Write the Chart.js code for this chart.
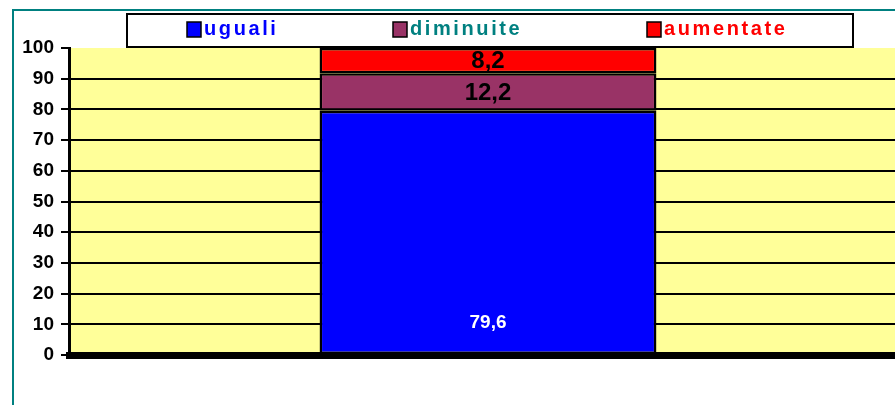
<!DOCTYPE html>
<html>
<head>
<meta charset="utf-8">
<script src="https://cdn.jsdelivr.net/npm/chart.js@4.4.1/dist/chart.umd.min.js"></script>
<style>
    html, body { margin: 0; padding: 0; background: #fff; overflow: hidden; }
    #myChart { display: block; }
</style>
</head>
<body>
<canvas id="myChart" width="910" height="405"></canvas>
<script>
// chart data
const categories = [''];
const seriesNames = ['uguali', 'diminuite', 'aumentate'];
const uguali = [79.6];
const diminuite = [12.2];
const aumentate = [8.2];
const yTicks = [0, 10, 20, 30, 40, 50, 60, 70, 80, 90, 100];

const FONT = '"Liberation Sans", Arial, sans-serif';

document.addEventListener("DOMContentLoaded", function () {

    // teal frame, yellow plot background
    const background = {
        id: 'background',
        beforeDraw(chart) {
            const ctx = chart.ctx;
            const a = chart.chartArea;
            ctx.save();
            ctx.fillStyle = '#008080';
            ctx.fillRect(12, 9, chart.width, 2);
            ctx.fillRect(12, 9, 2, chart.height);
            ctx.fillStyle = '#FFFF99';
            ctx.fillRect(a.left, a.top, a.right - a.left, a.bottom - a.top);
            ctx.restore();
        }
    };

    // boxed legend on top
    const boxLegend = {
        id: 'boxLegend',
        afterDraw(chart) {
            const ctx = chart.ctx;
            const textColors = ['#0000FF', '#008080', '#FF0000'];
            const itemX = [187, 393, 647];
            ctx.save();
            ctx.fillStyle = '#fff';
            ctx.fillRect(127, 14, 726, 33);
            ctx.lineWidth = 2;
            ctx.strokeStyle = '#000';
            ctx.strokeRect(127, 14, 726, 33);
            ctx.font = 'bold 20px ' + FONT;
            ctx.textBaseline = 'middle';
            ctx.letterSpacing = '2.6px';
            chart.data.datasets.forEach((ds, i) => {
                ctx.fillStyle = ds.backgroundColor;
                ctx.fillRect(itemX[i], 22, 14, 15);
                ctx.lineWidth = 1.5;
                ctx.strokeRect(itemX[i], 22, 14, 15);
                ctx.fillStyle = textColors[i];
                ctx.fillText(ds.label, itemX[i] + 17, 29);
            });
            ctx.restore();
        }
    };

    // value labels on the bar segments
    const valueLabels = {
        id: 'valueLabels',
        afterDatasetsDraw(chart) {
            const ctx = chart.ctx;
            ctx.save();
            ctx.textAlign = 'center';
            ctx.textBaseline = 'middle';
            chart.data.datasets.forEach((ds, i) => {
                chart.getDatasetMeta(i).data.forEach((bar, j) => {
                    const txt = String(ds.data[j]).replace('.', ',');
                    if (i === 0) {
                        ctx.font = 'bold 19px ' + FONT;
                        ctx.fillStyle = '#fff';
                        ctx.fillText(txt, bar.x, bar.base - 31);
                    } else {
                        ctx.font = 'bold 24px ' + FONT;
                        ctx.fillStyle = '#000';
                        ctx.fillText(txt, bar.x, (bar.y + bar.base) / 2 + 1);
                    }
                });
            });
            ctx.restore();
        }
    };

    function updateChart() {
        const ctx = document.getElementById('myChart').getContext('2d');
        const myChart = new Chart(ctx, {
            type: 'bar',
            data: {
                labels: categories,
                datasets: [
                    { label: seriesNames[0], data: uguali, backgroundColor: '#0000FF' },
                    { label: seriesNames[1], data: diminuite, backgroundColor: '#993366' },
                    { label: seriesNames[2], data: aumentate, backgroundColor: '#FF0000' }
                ]
            },
            options: {
                responsive: false,
                animation: false,
                layout: { padding: { left: 0, top: 48, right: 3, bottom: 50 } },
                datasets: {
                    bar: {
                        borderColor: '#000',
                        borderWidth: 2.5,
                        borderSkipped: false,
                        barPercentage: 1,
                        categoryPercentage: 0.402
                    }
                },
                plugins: {
                    legend: { display: false },
                    tooltip: { enabled: false }
                },
                scales: {
                    x: {
                        stacked: true,
                        ticks: { display: false },
                        grid: { display: false },
                        border: { color: '#000', width: 7 },
                        afterFit(scale) { scale.height = 0; }
                    },
                    y: {
                        stacked: true,
                        min: 0,
                        max: 100,
                        afterBuildTicks(scale) {
                            scale.ticks = yTicks.map(v => ({ value: v }));
                        },
                        afterFit(scale) { scale.width = 69; },
                        ticks: {
                            color: '#000',
                            padding: 7,
                            font: { family: FONT, size: 19, weight: 'bold' }
                        },
                        grid: {
                            color: c => (c.tick && (c.tick.value === 100 || c.tick.value === 0)) ? 'rgba(0,0,0,0)' : '#000',
                            tickColor: '#000',
                            lineWidth: 2,
                            tickLength: 8
                        },
                        border: { color: '#000', width: 3 }
                    }
                }
            },
            plugins: [background, boxLegend, valueLabels]
        });
    } updateChart();
});
</script>
</body>
</html>
